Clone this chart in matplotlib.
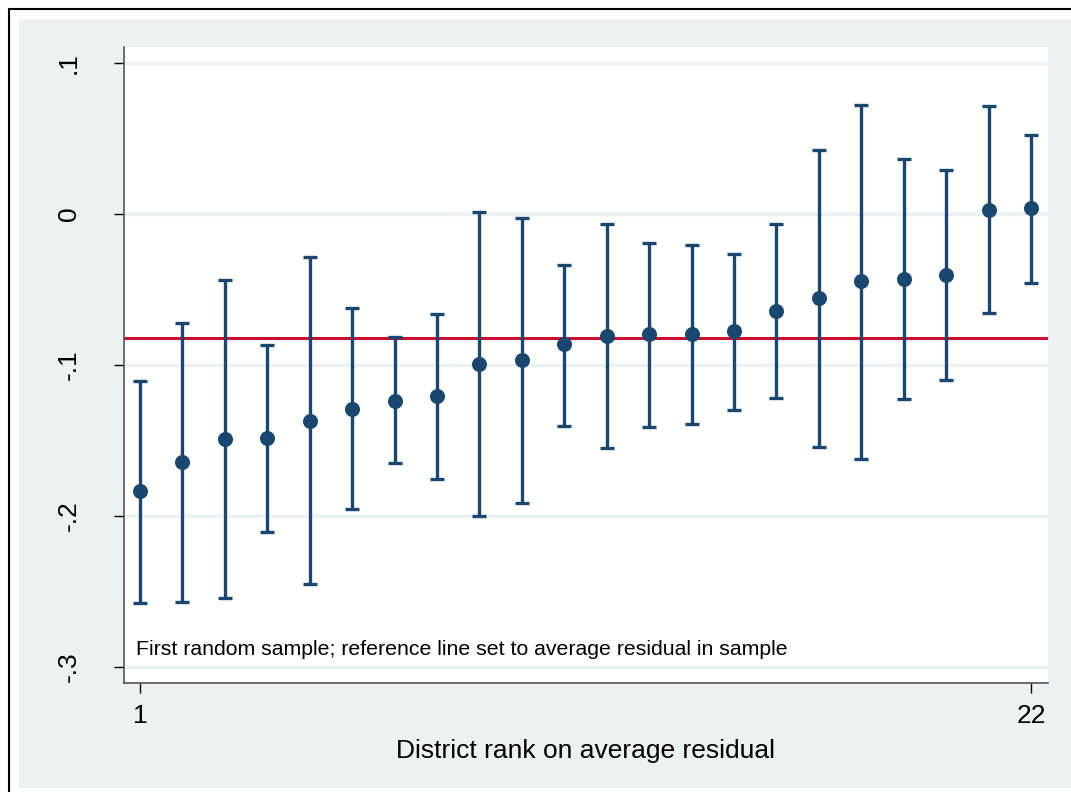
import matplotlib.pyplot as plt
from matplotlib.patches import Rectangle

plt.rcParams['font.family'] = ['Liberation Sans', 'DejaVu Sans']

# district rank, point estimate and CI bounds
rank = list(range(1, 23))
resid = [-0.1834, -0.1645, -0.1488, -0.1483, -0.1371, -0.1291, -0.1236, -0.1205,
         -0.0991, -0.0969, -0.0863, -0.0810, -0.0795, -0.0795, -0.0775, -0.0642,
         -0.0554, -0.0444, -0.0428, -0.0406, 0.0026, 0.0038]
upper = [-0.1106, -0.0720, -0.0437, -0.0868, -0.0285, -0.0620, -0.0815, -0.0660,
         0.0011, -0.0026, -0.0336, -0.0068, -0.0192, -0.0208, -0.0263, -0.0068,
         0.0422, 0.0724, 0.0366, 0.0291, 0.0715, 0.0523]
lower = [-0.2576, -0.2570, -0.2545, -0.2104, -0.2452, -0.1956, -0.1651, -0.1755,
         -0.1998, -0.1916, -0.1402, -0.1550, -0.1413, -0.1389, -0.1296, -0.1216,
         -0.1543, -0.1623, -0.1228, -0.1097, -0.0658, -0.0455]
ref_line = -0.0823

yticks = [-0.3, -0.2, -0.1, 0, 0.1]
ytick_labels = ['-.3', '-.2', '-.1', '0', '.1']
xticks = [1, 22]

navy = '#1a476f'
bg = '#eaf2f3'

fig = plt.figure(figsize=(10.71, 7.92), dpi=100)
fig.patch.set_facecolor('white')
# outer frame and graph region
fig.patches.append(Rectangle((9 / 1071, -0.1), 2, 0.9886 + 0.1, transform=fig.transFigure,
                             facecolor='white', edgecolor='black', linewidth=1.5, zorder=-10))
fig.patches.append(Rectangle((19 / 1071, 4 / 792), 2, 0.976 - 4 / 792, transform=fig.transFigure,
                             facecolor=bg, edgecolor='none', zorder=-9))

ax = fig.add_axes([124 / 1071, 109 / 792, 924 / 1071, 636 / 792])
ax.set_facecolor('white')

for y in yticks:
    ax.axhline(y, color=bg, linewidth=2.5, zorder=1)

ax.axhline(ref_line, color='#c8102e', linewidth=2.2, zorder=2)

yerr = [[r - l for r, l in zip(resid, lower)], [u - r for r, u in zip(resid, upper)]]
ax.errorbar(rank, resid, yerr=yerr, fmt='o', color=navy, ecolor=navy,
            markersize=9.8, elinewidth=2.4, capsize=5, capthick=2.4, zorder=3)

ax.set_xlim(0.623, 22.4)
ax.set_ylim(-0.3106, 0.1106)
ax.set_xticks(xticks)
ax.set_yticks(yticks)
ax.set_yticklabels(ytick_labels, rotation=90, va='center')
ax.tick_params(axis='y', length=7, width=1, pad=24, labelsize=19)
ax.tick_params(axis='x', length=7, width=1, pad=8, labelsize=19)

for s in ['top', 'right']:
    ax.spines[s].set_visible(False)
for s in ['left', 'bottom']:
    ax.spines[s].set_color('#555555')
    ax.spines[s].set_linewidth(1.2)

ax.set_xlabel('District rank on average residual', fontsize=19, labelpad=8)
ax.text(0.013, 0.044, 'First random sample; reference line set to average residual in sample',
        transform=ax.transAxes, fontsize=15.3, ha='left', va='baseline')

plt.savefig('out.png', dpi=100)
